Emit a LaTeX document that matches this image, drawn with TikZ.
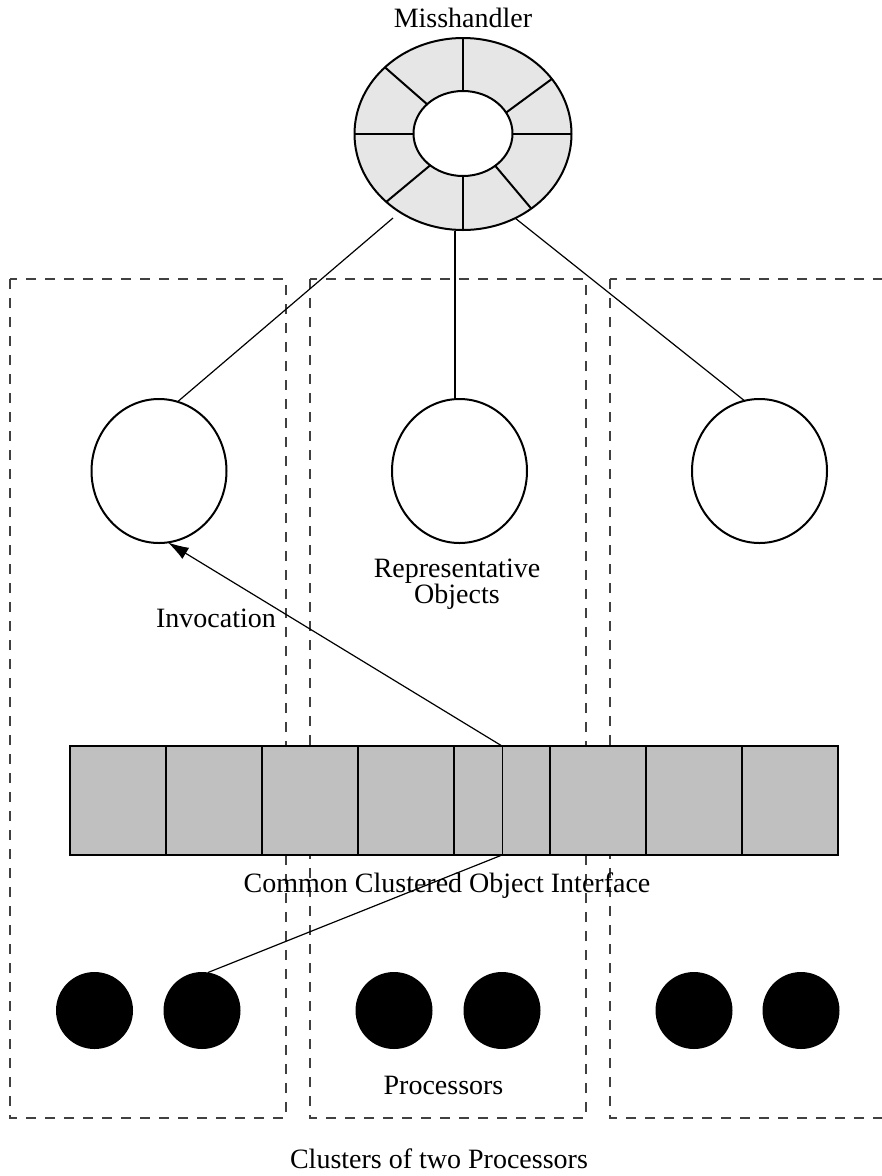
\documentclass[tikz,border=0pt]{standalone}
\usepackage{fontspec}
\setmainfont{Liberation Serif}
\usetikzlibrary{shapes.geometric,arrows.meta,calc}
\definecolor{ringgray}{HTML}{E6E6E6}
\definecolor{slotgray}{HTML}{C0C0C0}
\begin{document}
\begin{tikzpicture}[x=1pt,y=-1pt,
  every node/.style={font=\fontsize{28}{26}\selectfont},
  txt/.style={inner sep=0pt, outer sep=0pt},
  ringpart/.style={ellipse, draw, line width=2pt, inner sep=0pt, outer sep=0pt},
  repobj/.style={ellipse, draw, line width=2pt, fill=white, minimum width=135pt, minimum height=144pt, inner sep=0pt, outer sep=0pt},
  proc/.style={circle, fill=black, minimum size=77pt, inner sep=0pt, outer sep=0pt},
  cluster/.style={draw=black!75, line width=1.3pt, dash pattern=on 10pt off 9pt},
  link/.style={line width=1.2pt},
  cellsep/.style={line width=2.4pt}
]
\useasboundingbox (0,0) rectangle (882,1176);

% clusters of two processors
\draw[cluster] (10,279) rectangle (286,1118);
\draw[cluster] (310,279) rectangle (586,1118);
\draw[cluster] (610,279) rectangle (886,1118);

% misshandler ring with its segments
\node[ringpart, fill=ringgray, minimum width=217pt, minimum height=192pt] (mh) at (463,134) {};
\foreach \a/\b in {0/0, 30/35, 90/90, 136/136, 180/180, 228/225, 270/270, 311/309}
  \draw[line width=2pt] ($(mh.center)+(-\a:49.5 and 42.5)$) -- ($(mh.center)+(-\b:108.5 and 96)$);
\node[ringpart, fill=white, minimum width=99pt, minimum height=85pt] (mhcore) at (463,133.5) {};
\node[txt, anchor=base] (mhtext) at (463,27) {Misshandler};

% representative objects
\node[repobj] (rep1) at (159,471) {};
\node[repobj] (rep2) at (459.5,471) {};
\node[repobj] (rep3) at (759.5,471) {};
\node[txt, anchor=north, align=center] (reptext) at (457,559) {Representative\\Objects};

% links from the misshandler
\coordinate (mhL) at (393,218);
\coordinate (mhM) at (455,231);
\coordinate (mhR) at (515,218);
\draw[link] (mhL) -- (rep1.75);
\draw[link] (mhM) -- (mhM |- rep2.north);
\draw[link] (mhR) -- (rep3.102);

% common clustered object interface
\node[draw, line width=2.8pt, fill=slotgray, minimum width=768pt, minimum height=109pt, inner sep=0pt, outer sep=0pt] (ifc) at (454,800.5) {};
\foreach \i in {1,...,7}
  \draw[cellsep] ($(ifc.north west)+(96*\i,0)$) -- ($(ifc.south west)+(96*\i,0)$);
\coordinate (ifcT) at ($(ifc.north)+(48,0)$);
\coordinate (ifcB) at ($(ifc.south)+(48,0)$);
\draw[line width=0.9pt] (ifcT) -- (ifcB);
\node[txt, anchor=base] (ifctext) at (447,892) {Common Clustered Object Interface};

% processors
\foreach \n/\x in {1/94.5, 2/202, 3/394, 4/502, 5/694, 6/801}
  \node[proc] (p\n) at (\x,1010.5) {};
\node[txt, anchor=base] (proctext) at (443.5,1094) {Processors};

% invocation path
\draw[link, -{Latex[length=21pt,width=13pt]}] (ifcT) -- (rep1.-83);
\draw[link] (ifcB) -- (p2.81);
\node[txt, anchor=base] (invtext) at (216,627) {Invocation};

\node[txt, anchor=base] (clutext) at (439,1168) {Clusters of two Processors};
\end{tikzpicture}
\end{document}
